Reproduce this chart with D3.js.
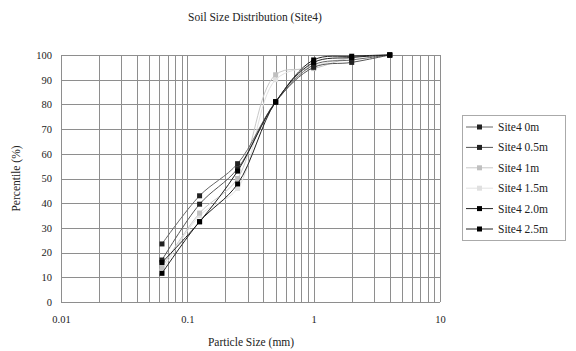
<!DOCTYPE html>
<html>
<head>
<meta charset="utf-8">
<script src="https://cdn.jsdelivr.net/npm/d3@7"></script>
<style>
  html, body { margin: 0; padding: 0; background: #fff; }
</style>
</head>
<body>
<div id="chart"></div>
<script>
// sieve sizes (mm)
const sizes = [0.063, 0.125, 0.25, 0.5, 1, 2, 4];

const seriesNames = ['Site4 0m', 'Site4 0.5m', 'Site4 1m', 'Site4 1.5m', 'Site4 2.0m', 'Site4 2.5m'];

// percent passing for each depth
const site0m   = [23.5, 43.0, 56.0, 81.0, 96.0, 98.0, 100];
const site05m  = [17.0, 39.6, 54.0, 81.0, 95.0, 97.0, 100];
const site1m   = [14.0, 36.0, 50.0, 92.0, 94.5, 99.0, 100];
const site15m  = [12.5, 35.0, 46.0, 90.0, 95.5, 99.0, 100];
const site20m  = [16.0, 32.5, 53.0, 81.0, 98.0, 99.5, 100];
const site25m  = [11.6, 32.5, 47.8, 81.0, 97.0, 99.0, 100];

const xTicks = [0.01, 0.1, 1, 10];
const yTicks = [0, 10, 20, 30, 40, 50, 60, 70, 80, 90, 100];

const width = 576;
const height = 351;
const margin = {left: 61, right: 136, top: 55, bottom: 49};
const font = '"Liberation Serif", "Times New Roman", "DejaVu Serif", serif';

const seriesData = [site0m, site05m, site1m, site15m, site20m, site25m];
const lineColors = ['#666', '#555', '#c8c8c8', '#e2e2e2', '#222', '#222'];
const markColors = ['#222', '#222', '#c0c0c0', '#e0e0e0', '#000', '#000'];

const svg = d3.select('#chart')
    .append('svg')
    .attr('width', width)
    .attr('height', height)
    .attr('font-family', font);

const x = d3.scaleLog()
    .domain([0.01, 10])
    .range([margin.left, width - margin.right]);

const y = d3.scaleLinear()
    .domain([0, 100])
    .range([height - margin.bottom, margin.top]);

// Сетка: вертикальные линии на каждом значении логарифмической шкалы
const minorTicks = [];
[0.01, 0.1, 1].forEach(base => {
  for (let k = 1; k <= 9; k++) minorTicks.push(base * k);
});
minorTicks.push(10);

const grid = svg.append('g').attr('class', 'grid');
grid.selectAll('line.v')
    .data(minorTicks)
    .join('line')
    .attr('class', 'v')
    .attr('x1', d => Math.round(x(d)) + 0.5)
    .attr('x2', d => Math.round(x(d)) + 0.5)
    .attr('y1', y(0))
    .attr('y2', y(100))
    .attr('stroke', '#8e8e8e')
    .attr('stroke-width', 1);

grid.selectAll('line.h')
    .data(yTicks)
    .join('line')
    .attr('class', 'h')
    .attr('x1', x(0.01))
    .attr('x2', x(10))
    .attr('y1', d => Math.round(y(d)) + 0.5)
    .attr('y2', d => Math.round(y(d)) + 0.5)
    .attr('stroke', '#8e8e8e')
    .attr('stroke-width', 1);

// Axes
const xAxis = svg.append('g')
    .attr('transform', `translate(0, ${y(0)})`)
    .call(d3.axisBottom(x).tickValues(xTicks).tickSize(0).tickPadding(14).tickFormat(d3.format('')));
xAxis.select('.domain').remove();
xAxis.attr('font-family', font);
xAxis.selectAll('text').style('font-size', '10.5px').attr('fill', '#222');

const yAxis = svg.append('g')
    .attr('transform', `translate(${x(0.01)}, 0)`)
    .call(d3.axisLeft(y).tickValues(yTicks).tickSize(0).tickPadding(9));
yAxis.select('.domain').remove();
yAxis.attr('font-family', font);
yAxis.selectAll('text').style('font-size', '10.5px').attr('fill', '#222');

// Titles
svg.append('text')
    .attr('x', 255)
    .attr('y', 21)
    .attr('text-anchor', 'middle')
    .attr('fill', '#222')
    .style('font-size', '11.5px')
    .text('Soil Size Distribution (Site4)');

svg.append('text')
    .attr('x', 251)
    .attr('y', 346)
    .attr('text-anchor', 'middle')
    .attr('fill', '#222')
    .style('font-size', '11.5px')
    .text('Particle Size (mm)');

svg.append('text')
    .attr('transform', `translate(20, ${(y(0) + y(100)) / 2}) rotate(-90)`)
    .attr('text-anchor', 'middle')
    .attr('fill', '#222')
    .style('font-size', '11.5px')
    .text('Percentile (%)');

// Series lines (smoothed)
const line = d3.line()
    .x((d, i) => x(sizes[i]))
    .y(d => y(d))
    .curve(d3.curveCatmullRom.alpha(0.5));

const order = [3, 2, 0, 1, 4, 5];
const series = svg.selectAll('.series')
    .data(order)
    .join('g')
    .attr('class', 'series');

series.append('path')
    .attr('d', i => line(seriesData[i]))
    .attr('fill', 'none')
    .attr('stroke', i => lineColors[i])
    .attr('stroke-width', 1);

series.selectAll('rect')
    .data(i => seriesData[i].map((v, j) => ({v, j, i})))
    .join('rect')
    .attr('x', d => x(sizes[d.j]) - 2.5)
    .attr('y', d => y(d.v) - 2.5)
    .attr('width', 5)
    .attr('height', 5)
    .attr('fill', d => markColors[d.i]);

// Legend
const legend = svg.append('g')
    .attr('transform', 'translate(462, 115)');

legend.append('rect')
    .attr('x', 0.5)
    .attr('y', 0.5)
    .attr('width', 103)
    .attr('height', 125)
    .attr('fill', '#fff')
    .attr('stroke', '#aaa');

const item = legend.selectAll('.item')
    .data(seriesNames)
    .join('g')
    .attr('class', 'item')
    .attr('transform', (d, i) => `translate(0, ${12 + i * 20.4})`);

item.append('line')
    .attr('x1', 4)
    .attr('x2', 31)
    .attr('stroke', (d, i) => lineColors[i])
    .attr('stroke-width', 1);

item.append('rect')
    .attr('x', 15)
    .attr('y', -2.5)
    .attr('width', 5)
    .attr('height', 5)
    .attr('fill', (d, i) => markColors[i]);

item.append('text')
    .attr('x', 36)
    .attr('y', 4)
    .attr('fill', '#222')
    .style('font-size', '11.5px')
    .text(d => d);
</script>
</body>
</html>
